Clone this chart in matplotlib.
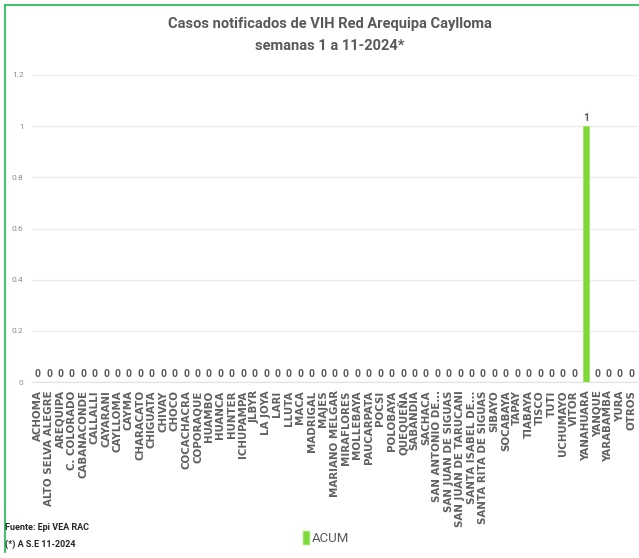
import matplotlib
matplotlib.use("Agg")
import matplotlib.pyplot as plt
from matplotlib.lines import Line2D
from matplotlib.patches import Patch

categories = ["ACHOMA", "ALTO SELVA ALEGRE", "AREQUIPA", "C. COLORADO", "CABANACONDE",
              "CALLALLI", "CAYARANI", "CAYLLOMA", "CAYMA", "CHARACATO", "CHIGUATA",
              "CHIVAY", "CHOCO", "COCACHACRA", "COPORAQUE", "HUAMBO", "HUANCA", "HUNTER",
              "ICHUPAMPA", "JLBYR", "LA JOYA", "LARI", "LLUTA", "MACA", "MADRIGAL", "MAJES",
              "MARIANO MELGAR", "MIRAFLORES", "MOLLEBAYA", "PAUCARPATA", "POCSI", "POLOBAYA",
              "QUEQUEÑA", "SABANDIA", "SACHACA", "SAN ANTONIO DE...", "SAN JUAN DE SIGUAS",
              "SAN JUAN DE TARUCANI", "SANTA ISABEL DE...", "SANTA RITA DE SIGUAS", "SIBAYO",
              "SOCABAYA", "TAPAY", "TIABAYA", "TISCO", "TUTI", "UCHUMAYO", "VITOR",
              "YANAHUARA", "YANQUE", "YARABAMBA", "YURA", "OTROS"]
acum = [0] * 48 + [1] + [0] * 4
yticks = [0, 0.2, 0.4, 0.6, 0.8, 1, 1.2]
yticklabels = ["0", "0.2", "0.4", "0.6", "0.8", "1", "1.2"]
title = "Casos notificados de VIH Red Arequipa Caylloma\nsemanas 1 a 11-2024*"

narrow = "Roboto"
gray = "#595959"
green = "#7ED83A"

fig = plt.figure(figsize=(6.39, 5.58), dpi=100)
ax = fig.add_axes([0.050, 0.3154, 0.947, 0.5502])

x = list(range(len(categories)))
ax.bar(x, acum, width=0.55, color=green, edgecolor="#9BE860", linewidth=0.6, zorder=3)
for xi, v in zip(x, acum):
    ax.text(xi, v + 0.012, f"{v:g}", ha="center", va="bottom", fontsize=7.5,
            fontweight="bold", color=gray, family=narrow)

ax.set_xlim(-0.5, len(categories) - 0.5)
ax.set_ylim(0, 1.2)
ax.set_yticks(yticks)
ax.set_yticklabels(yticklabels, fontsize=6, color="#8c8c8c", family=narrow)
ax.yaxis.grid(True, color="#ebebeb", linewidth=1, zorder=0)
ax.set_axisbelow(True)
for s in ["top", "right", "left"]:
    ax.spines[s].set_visible(False)
ax.spines["bottom"].set_color("#e0e0e0")
ax.tick_params(axis="y", length=0, pad=6)
ax.tick_params(axis="x", length=0, pad=6)
ax.set_xticks(x)
ax.set_xticklabels(categories, rotation=90, fontsize=7.4, color="#606060",
                   fontweight="bold", family="DejaVu Sans")

fig.text(0.516, 0.937, title, ha="center", va="center", fontsize=10.5,
         fontweight="bold", color=gray, family=narrow, linespacing=1.75)

# legend
leg = fig.legend(handles=[Patch(facecolor=green, edgecolor="#9BE860")], labels=["ACUM"],
                 loc="center", bbox_to_anchor=(0.51, 0.036), frameon=False,
                 handlelength=0.5, handleheight=1.1, handletextpad=0.2,
                 prop={"family": narrow, "size": 9.5})
for t in leg.get_texts():
    t.set_color(gray)

fig.text(0.008, 0.055, "Fuente: Epi VEA RAC", fontsize=6.5, fontweight="bold",
         color="#262626", family=narrow, va="center")
fig.text(0.008, 0.024, "(*) A S.E 11-2024", fontsize=6.5, fontweight="bold",
         color="#262626", family=narrow, va="center")

# green frame (top and left)
fig.add_artist(Line2D([0.008, 1.0], [0.991, 0.991], color="#2DBE5A", linewidth=1.3,
                      transform=fig.transFigure))
fig.add_artist(Line2D([0.008, 0.008], [0.991, 0.01], color="#2DBE5A", linewidth=1.3,
                      transform=fig.transFigure))

fig.savefig("out.png", dpi=100)
